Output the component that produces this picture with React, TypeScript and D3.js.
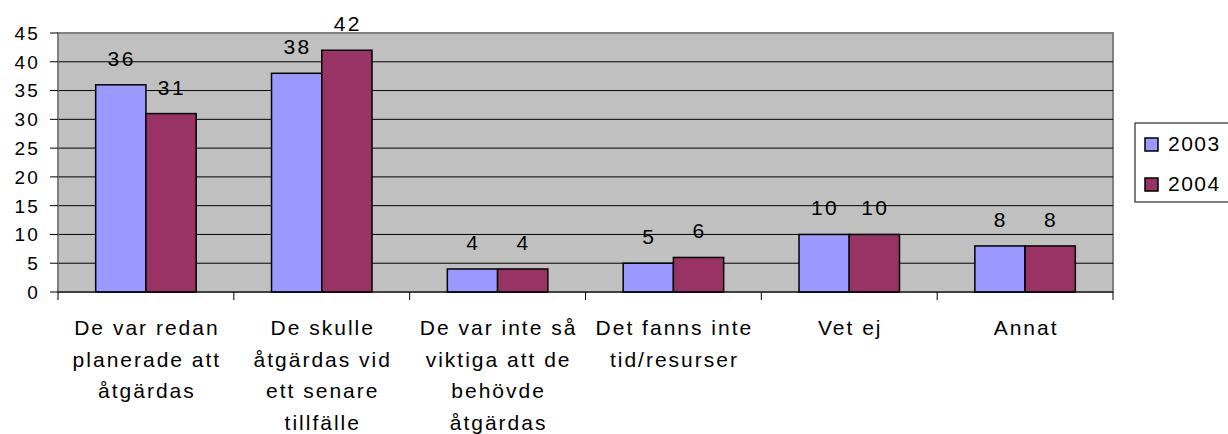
import React from "react";
import * as d3 from "d3";

const width = 1228;
const height = 434;
const margin = { top: 33, right: 115, bottom: 142, left: 58 };

const categories = [
  ["De var redan", "planerade att", "åtgärdas"],
  ["De skulle", "åtgärdas vid", "ett senare", "tillfälle"],
  ["De var inte så", "viktiga att de", "behövde", "åtgärdas"],
  ["Det fanns inte", "tid/resurser"],
  ["Vet ej"],
  ["Annat"]
];
const years = ["2003", "2004"];
const values2003 = [36, 38, 4, 5, 10, 8];
const values2004 = [31, 42, 4, 6, 10, 8];
const yTicks = [0, 5, 10, 15, 20, 25, 30, 35, 40, 45];
const colors = ["#9999FF", "#993366"];

const font = "'Liberation Sans', Arial, sans-serif";

export default function App() {
  const innerW = width - margin.left - margin.right;
  const innerH = height - margin.top - margin.bottom;
  const series = [values2003, values2004];

  const x = d3.scaleBand<number>()
    .domain(d3.range(categories.length))
    .range([0, innerW])
    .paddingInner(0)
    .paddingOuter(0);
  const barW = x.bandwidth() / 3.5;
  const y = d3.scaleLinear().domain([0, 45]).range([innerH, 0]);

  return (
    <svg width={width} height={height} style={{ display: "block", position: "absolute", left: 0, top: 0 }} fontFamily={font}>
      <g transform={`translate(${margin.left},${margin.top})`}>
        <rect x={0} y={0} width={innerW} height={innerH} fill="#C0C0C0" stroke="#808080" strokeWidth={2} />
        {yTicks.filter(t => t > 0 && t < 45).map(t => (
          <line key={t} x1={0} x2={innerW} y1={y(t)} y2={y(t)} stroke="#000" strokeWidth={1} />
        ))}
        {/* y axis */}
        <line x1={0} x2={0} y1={0} y2={innerH} stroke="#808080" strokeWidth={1.5} />
        {yTicks.map(t => (
          <g key={t}>
            <line x1={-8} x2={0} y1={y(t)} y2={y(t)} stroke="#000" />
            <text x={-18} y={y(t)} dy="0.36em" textAnchor="end" fontSize={19} letterSpacing={2.2}>{t}</text>
          </g>
        ))}
        {/* bars */}
        {categories.map((c, i) => (
          <g key={i}>
            {series.map((s, j) => {
              const bx = (x(i) as number) + barW * 0.75 + j * barW;
              return (
                <g key={j}>
                  <rect x={bx} y={y(s[i])} width={barW} height={innerH - y(s[i])} fill={colors[j]} stroke="#000" strokeWidth={1.5} />
                  <text x={bx + barW / 2 + 1} y={y(s[i]) - 19} textAnchor="middle" fontSize={21} letterSpacing={2.5}>{s[i]}</text>
                </g>
              );
            })}
          </g>
        ))}
        {/* x axis */}
        <line x1={0} x2={innerW} y1={innerH} y2={innerH} stroke="#000" strokeWidth={1} />
        {d3.range(categories.length + 1).map(i => (
          <line key={i} x1={i * x.step()} x2={i * x.step()} y1={innerH} y2={innerH + 8} stroke="#000" />
        ))}
        {categories.map((c, i) => (
          <text key={i} x={(x(i) as number) + x.bandwidth() / 2} y={innerH + 43} textAnchor="middle" fontSize={21} letterSpacing={2}>
            {c.map((line, k) => (
              <tspan key={k} x={(x(i) as number) + x.bandwidth() / 2 + 1} dy={k === 0 ? 0 : 31.7}>{line}</tspan>
            ))}
          </text>
        ))}
      </g>
      {/* legend */}
      <g transform="translate(1135,123)">
        <rect x={0} y={0} width={100} height={79} fill="#fff" stroke="#000" strokeWidth={1} />
        {years.map((yr, j) => (
          <g key={yr} transform={`translate(0,${j * 40})`}>
            <rect x={10} y={15} width={13} height={13} fill={colors[j]} stroke="#000" strokeWidth={1.5} />
            <text x={33} y={28} fontSize={21} letterSpacing={1.5}>{yr}</text>
          </g>
        ))}
      </g>
    </svg>
  );
}
